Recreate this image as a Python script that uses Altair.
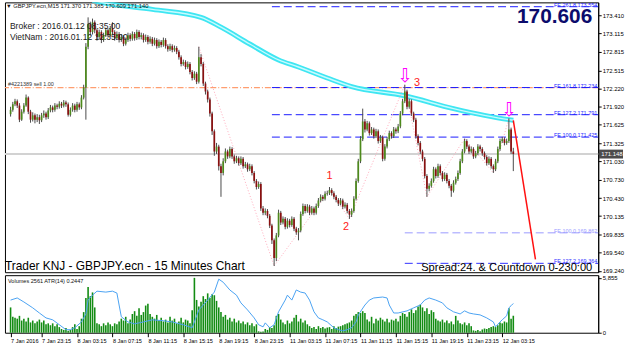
import altair as alt
import pandas as pd

# ---------------- data ----------------
open0 = 171.80
closes = [
    171.87, 171.96, 172.01, 171.94, 171.71, 171.84, 171.94, 172.07, 171.84, 171.71,
    171.78, 171.71, 171.75, 171.70, 171.78, 171.81, 171.75, 171.86, 171.91, 171.87,
    171.94, 171.92, 171.97, 171.94, 171.99, 171.96, 171.79, 171.87, 171.94, 171.87,
    171.96, 171.91, 172.07, 172.23, 172.90, 173.27, 173.14, 173.30, 173.17, 173.06,
    173.14, 173.01, 173.09, 173.17, 173.09, 173.20, 173.14, 173.04, 173.11, 173.01,
    173.06, 172.95, 173.01, 173.09, 173.03, 173.11, 173.04, 173.14, 173.06, 173.09,
    173.01, 173.06, 172.98, 173.03, 172.95, 173.01, 172.91, 172.98, 172.93, 173.01,
    172.91, 172.86, 172.91, 172.85, 172.88, 172.82, 172.73, 172.62, 172.65, 172.57,
    172.62, 172.49, 172.39, 172.46, 172.33, 172.73, 172.62, 172.30, 172.17, 172.04,
    171.81, 171.52, 171.19, 171.27, 170.95, 170.84, 171.03, 171.19, 171.11, 171.23,
    171.11, 171.03, 171.08, 171.00, 171.07, 170.95, 170.98, 170.90, 170.95, 170.84,
    170.71, 170.61, 170.66, 170.26, 170.19, 170.22, 170.14, 169.98, 169.74, 169.45,
    169.82, 170.19, 170.03, 170.09, 169.96, 170.06, 169.99, 170.09, 169.93, 169.87,
    169.90, 170.17, 170.30, 170.22, 170.29, 170.19, 170.26, 170.19, 170.30, 170.39,
    170.45, 170.42, 170.50, 170.51, 170.56, 170.51, 170.45, 170.40, 170.34, 170.39,
    170.29, 170.32, 170.22, 170.16, 170.22, 170.42, 170.71, 171.03, 171.39, 171.68,
    171.55, 171.65, 171.49, 171.55, 171.44, 171.52, 171.36, 171.42, 171.07, 171.27,
    171.39, 171.49, 171.44, 171.55, 171.52, 171.60, 171.81, 172.01, 172.17, 171.92,
    172.01, 171.81, 171.71, 171.44, 171.33, 171.19, 171.07, 170.79, 170.58, 170.63,
    170.71, 170.90, 170.79, 170.95, 170.84, 170.74, 170.81, 170.71, 170.63, 170.55,
    170.68, 170.74, 170.84, 171.03, 171.19, 171.36, 171.27, 171.19, 171.23, 171.11,
    171.16, 171.27, 171.23, 171.16, 171.10, 171.00, 171.07, 170.95, 170.90, 171.03,
    171.23, 171.36, 171.39, 171.33, 171.36, 171.55, 171.19, 171.148,
]
highs = [
    171.92, 172.00, 172.05, 172.04, 171.98, 171.88, 171.98, 172.12, 172.09, 171.87,
    171.83, 171.81, 171.80, 171.79, 171.82, 171.86, 171.84, 171.90, 171.95, 171.94,
    171.98, 171.97, 172.01, 172.00, 172.03, 172.02, 171.99, 171.91, 171.98, 171.97,
    172.00, 171.99, 172.11, 172.28, 172.96, 173.38, 173.31, 173.36, 173.33, 173.20,
    173.18, 173.17, 173.13, 173.21, 173.20, 173.24, 173.30, 173.17, 173.15, 173.14,
    173.10, 173.09, 173.05, 173.13, 173.12, 173.15, 173.14, 173.18, 173.17, 173.13,
    173.12, 173.10, 173.09, 173.07, 173.06, 173.05, 173.04, 173.02, 173.01, 173.05,
    173.04, 172.94, 172.95, 172.94, 172.92, 172.91, 172.85, 172.76, 172.69, 172.68,
    172.66, 172.65, 172.52, 172.50, 172.49, 172.90, 172.78, 172.65, 172.33, 172.20,
    172.07, 171.84, 171.55, 171.33, 171.30, 170.99, 171.08, 171.24, 171.22, 171.27,
    171.26, 171.14, 171.12, 171.11, 171.11, 171.10, 171.02, 171.01, 170.99, 170.98,
    170.87, 170.74, 170.70, 170.69, 170.30, 170.26, 170.25, 170.17, 170.01, 169.77,
    169.86, 170.24, 170.22, 170.13, 170.12, 170.10, 170.09, 170.13, 170.12, 169.96,
    169.94, 170.21, 170.34, 170.33, 170.33, 170.32, 170.30, 170.29, 170.34, 170.43,
    170.49, 170.48, 170.54, 170.55, 170.61, 170.59, 170.54, 170.48, 170.43, 170.43,
    170.42, 170.36, 170.35, 170.25, 170.26, 170.46, 170.75, 171.07, 171.44, 171.89,
    171.72, 171.69, 171.68, 171.59, 171.58, 171.56, 171.55, 171.46, 171.45, 171.31,
    171.43, 171.53, 171.52, 171.59, 171.58, 171.64, 171.85, 172.05, 172.28, 172.20,
    172.05, 172.04, 171.84, 171.74, 171.47, 171.36, 171.22, 171.10, 170.82, 170.67,
    170.75, 170.94, 170.93, 170.99, 170.98, 170.87, 170.85, 170.84, 170.74, 170.66,
    170.72, 170.78, 170.88, 171.07, 171.23, 171.40, 171.39, 171.30, 171.27, 171.26,
    171.20, 171.31, 171.30, 171.26, 171.19, 171.13, 171.11, 171.10, 170.98, 171.07,
    171.27, 171.40, 171.43, 171.42, 171.40, 171.73, 171.58, 171.25,
]
lows = [
    171.76, 171.84, 171.93, 171.90, 171.67, 171.69, 171.81, 171.92, 171.80, 171.66,
    171.68, 171.65, 171.67, 171.64, 171.67, 171.74, 171.71, 171.72, 171.83, 171.83,
    171.84, 171.88, 171.89, 171.90, 171.91, 171.92, 171.76, 171.76, 171.84, 171.83,
    171.84, 171.87, 171.88, 172.04, 171.71, 172.86, 173.08, 173.10, 173.12, 173.00,
    173.02, 172.96, 172.98, 173.06, 173.05, 173.06, 173.10, 173.00, 173.01, 172.97,
    172.98, 172.91, 172.92, 172.98, 172.99, 173.00, 173.00, 173.01, 173.02, 173.02,
    172.97, 172.98, 172.94, 172.95, 172.91, 172.92, 172.87, 172.88, 172.89, 172.90,
    172.87, 172.82, 172.83, 172.81, 172.82, 172.78, 172.69, 172.58, 172.59, 172.53,
    172.54, 172.45, 172.35, 172.36, 172.29, 172.30, 172.58, 172.26, 172.12, 171.99,
    171.76, 171.46, 171.12, 171.15, 170.88, 170.45, 170.80, 171.00, 171.07, 171.08,
    171.07, 170.99, 171.00, 170.96, 170.97, 170.91, 170.92, 170.86, 170.87, 170.80,
    170.67, 170.57, 170.58, 170.22, 170.15, 170.15, 170.10, 169.94, 169.68, 169.32,
    169.40, 169.79, 169.99, 170.00, 169.92, 169.93, 169.95, 169.96, 169.89, 169.83,
    169.74, 169.87, 170.14, 170.18, 170.19, 170.15, 170.16, 170.15, 170.16, 170.27,
    170.36, 170.38, 170.39, 170.47, 170.48, 170.47, 170.41, 170.36, 170.30, 170.31,
    170.25, 170.26, 170.18, 170.09, 170.12, 170.19, 170.39, 170.68, 171.00, 171.36,
    171.50, 171.52, 171.45, 171.46, 171.40, 171.41, 171.32, 171.33, 171.03, 171.04,
    171.24, 171.36, 171.40, 171.41, 171.48, 171.49, 171.57, 171.78, 171.98, 171.88,
    171.89, 171.77, 171.67, 171.40, 171.29, 171.15, 171.03, 170.75, 170.45, 170.54,
    170.60, 170.68, 170.75, 170.76, 170.80, 170.70, 170.71, 170.67, 170.59, 170.45,
    170.52, 170.65, 170.71, 170.81, 171.00, 171.16, 171.23, 171.15, 171.16, 171.07,
    171.08, 171.13, 171.19, 171.12, 171.06, 170.96, 170.97, 170.91, 170.84, 170.87,
    171.00, 171.20, 171.33, 171.29, 171.30, 171.33, 171.15, 170.87,
]
volumes = [
    2700, 1700, 1600, 1500, 1800, 1300, 1500, 1200, 1600, 1100,
    1300, 1000, 1200, 1400, 1100, 1300, 900, 1000, 800, 1000,
    700, 900, 600, 400, 300, 500, 200, 300, 600, 900,
    400, 700, 1500, 2200, 3700, 4880, 3900, 4300, 2700, 1000,
    900, 700, 1000, 800, 1100, 900, 700, 1000, 900, 1200,
    1500, 1300, 1700, 1000, 1400, 2000, 2300, 1800, 2600, 1900,
    2200, 2900, 3100, 2000, 1700, 1500, 1900, 1300, 1600, 1200,
    1400, 1100, 1700, 1300, 1500, 1000, 1200, 1600, 1100, 1400,
    1300, 1000, 2400, 5855, 3500, 2800, 3300, 3900, 3600, 4200,
    3700, 4100, 4000, 3400, 2700, 2200, 1700, 1900, 1400, 1600,
    1200, 1500, 1100, 1300, 1000, 1200, 900, 1100, 800, 1000,
    700, 900, 150, 100, 120, 400, 300, 600, 500, 800,
    1800, 2000, 1400, 1100, 900, 1300, 1000, 1200, 1600, 1900,
    1200, 1500, 1100, 1300, 900, 700, 500, 600, 400, 700,
    500, 600, 450, 550, 600, 400, 700, 500, 650, 700,
    800, 900, 1000, 1100, 1300, 1800, 2000, 2200, 2100, 2300,
    2100, 1400, 1200, 1700, 1000, 1500, 1300, 1600, 1400, 1200,
    1500, 1100, 1400, 1300, 1500, 1200, 1800, 2100, 2000, 1700,
    2200, 2500, 2100, 2400, 2800, 3000, 2700, 2300, 2600, 2000,
    2400, 2200, 1500, 1300, 1200, 1400, 1100, 1300, 1000, 1200,
    900, 1800, 1300, 1000, 900, 1100, 800, 1000, 700, 250,
    200, 300, 150, 350, 450, 400, 500, 600, 700, 600,
    800, 1100, 1000, 1200, 1100, 2600, 1500, 1800,
]
atr_idx = [0, 3, 6, 10, 13, 16, 19, 22, 25, 27, 29, 32, 34, 35, 37, 39, 43, 46, 48, 49,
           50, 53, 56, 60, 64, 69, 73, 78, 82, 83, 85, 89, 92, 94, 96, 99, 102, 104, 107, 110,
           112, 114, 115, 117, 119, 121, 124, 125, 127, 129, 131, 133, 135, 137, 139, 141, 143, 146, 148, 150,
           152, 154, 156, 157, 160, 162, 164, 168, 170, 171, 173, 175, 179, 182, 185, 187, 189, 192, 195, 197,
           200, 203, 205, 207, 209, 212, 215, 218, 219, 221, 222, 224, 225, 226, 227]
atr_val = [0.259, 0.268, 0.251, 0.226, 0.204, 0.183, 0.175, 0.154, 0.133, 0.133,
           0.141, 0.166, 0.200, 0.259, 0.280, 0.297, 0.293, 0.297, 0.289, 0.238,
           0.188, 0.166, 0.158, 0.166, 0.175, 0.171, 0.166, 0.154, 0.141, 0.166,
           0.217, 0.259, 0.293, 0.348, 0.335, 0.302, 0.280, 0.247, 0.217, 0.183,
           0.154, 0.145, 0.162, 0.141, 0.154, 0.209, 0.259, 0.280, 0.259, 0.302,
           0.293, 0.289, 0.259, 0.209, 0.183, 0.175, 0.166, 0.141, 0.133, 0.128,
           0.133, 0.141, 0.166, 0.196, 0.238, 0.259, 0.268, 0.272, 0.268, 0.238,
           0.204, 0.204, 0.213, 0.226, 0.238, 0.259, 0.268, 0.259, 0.247, 0.226,
           0.209, 0.200, 0.213, 0.204, 0.200, 0.196, 0.183, 0.166, 0.145, 0.166,
           0.175, 0.192, 0.226, 0.235, 0.2447]
ma_idx = [37, 41, 64, 86, 95, 108, 121, 130, 143, 154, 178, 200, 225, 227]
ma_val = [173.66, 173.625, 173.51, 173.38, 173.22, 172.945, 172.685, 172.57, 172.39, 172.25,
          172.10, 171.89, 171.71, 171.70]
zig_idx = [85, 119, 144, 153, 178, 188, 205, 218, 225]
zig_val = [172.90, 169.32, 170.56, 170.09, 172.28, 170.45, 171.40, 170.84, 171.73]
proj_idx = [227, 237]
proj_val = [171.70, 169.43]
arrow_idx = [178, 225]
arrow_val = [172.43, 171.86]
num_txt = ["1", "2", "3"]
num_idx = [144, 151.5, 183.5]
num_val = [170.79, 169.95, 172.30]
fe_labels = ["FE 261.8  173.554", "FE 161.8  172.234", "FE 127.2  171.791",
             "FE 100.0  171.425", "FE 100.0  169.862", "FE 127.2  169.364"]
fe_prices = [173.554, 172.234, 171.791, 171.425, 169.862, 169.364]
fe_start = [118, 118, 118, 118, 178, 178]
fe_group = ["a", "a", "a", "a", "b", "c"]
tick_idx = [0, 14, 30, 46, 62, 78, 94, 110, 126, 142, 158, 174, 190, 206, 222]
tick_txt = ["7 Jan 2016", "7 Jan 23:15", "8 Jan 03:15", "8 Jan 07:15", "8 Jan 11:15",
            "8 Jan 15:15", "8 Jan 19:15", "8 Jan 23:15", "11 Jan 03:15", "11 Jan 07:15",
            "11 Jan 11:15", "11 Jan 15:15", "11 Jan 19:15", "11 Jan 23:15", "12 Jan 03:15"]
price_ticks = [173.410, 173.115, 172.815, 172.515, 172.220, 171.920, 171.625, 171.325,
               171.030, 170.730, 170.430, 170.135, 169.835, 169.540, 169.240]
current_price = 171.148
order_price = 172.234
order_label = "#4221389 sell 1.00"
big_price = "170.606"
header = "\u25bc GBPJPY.ecn,M15  171.370 171.385 170.609 171.140"
broker_txt = "Broker     : 2016.01.12 08:35:00"
vn_txt = "VietNam : 2016.01.12 12:35:00"
title_txt = "Trader KNJ - GBPJPY.ecn - 15 Minutes Chart"
spread_txt = "Spread:24. & Countdown 0-230:00"
vol_txt = "Volumes 2561  ATR(14) 0.2447"

# ---------------- frames ----------------
n = len(closes)
opens = [open0] + closes[:-1]
df = pd.DataFrame({"i": list(range(n)), "open": opens, "close": closes,
                   "high": highs, "low": lows, "vol": volumes})
df["dir"] = ["up" if c >= o else "down" for o, c in zip(opens, closes)]
atr_df = pd.DataFrame({"i": atr_idx, "atr": atr_val})
ma_df = pd.DataFrame({"i": ma_idx, "p": ma_val})
zig_df = pd.DataFrame({"i": zig_idx, "p": zig_val})
proj_df = pd.DataFrame({"i": proj_idx, "p": proj_val})
arrow_df = pd.DataFrame({"i": arrow_idx, "p": arrow_val})
num_df = pd.DataFrame({"i": num_idx, "p": num_val, "t": num_txt})
fe_df = pd.DataFrame({"label": fe_labels, "p": fe_prices, "start": fe_start, "g": fe_group})
cur_df = pd.DataFrame({"p": [current_price], "t": [f"{current_price:.3f}"]})
ord_df = pd.DataFrame({"p": [order_price]})
one = pd.DataFrame({"a": [0]})

SANS = "Liberation Sans, Arial, sans-serif"

XS = alt.Scale(domain=[-0.3, 263.1], nice=False, zero=False)
YS = alt.Scale(domain=[169.219, 173.625], nice=False, zero=False)
price_axis = alt.Axis(orient="right", values=price_ticks, format=".3f", title=None, grid=False,
                      labelFontSize=6, labelFont=SANS, tickSize=3, labelPadding=1,
                      domainColor="black", tickColor="black", labelColor="black",
                      labelOverlap=False)


def xq(f="i"):
    return alt.X(f, type="quantitative", scale=XS, axis=None)


def yq(f):
    return alt.Y(f, type="quantitative", scale=YS, axis=price_axis)


W, H = 598, 272
FE_COL = {"a": "#1a1aff", "b": "#9a9aff", "c": "#3030ff"}

cur_line = alt.Chart(cur_df).mark_rule(color="#d2d2d2", strokeWidth=2).encode(y=yq("p"))
ord_line = alt.Chart(ord_df).mark_rule(color="#ff9e70", strokeWidth=1.2,
                                       strokeDash=[6, 2, 1, 2]).encode(y=yq("p"))
ord_text = alt.Chart(ord_df).mark_text(text=order_label, align="left", baseline="bottom",
                                       fontSize=5.5, font=SANS, color="#333", dy=-1).encode(
    x=alt.value(3), y=yq("p"))

fe_layers = []
for g, col in FE_COL.items():
    sub = alt.Chart(fe_df).transform_filter(f"datum.g == '{g}'")
    fe_layers.append(sub.mark_rule(strokeWidth=1, strokeDash=[8, 4], color=col).encode(
        x=xq("start"), x2=alt.value(W), y=yq("p")))
    fe_layers.append(sub.mark_text(align="right", baseline="bottom", fontSize=5.5, font=SANS,
                                   dy=1, color=col).encode(
        x=alt.value(W - 1), y=yq("p"), text="label:N"))

ma_outer = alt.Chart(ma_df).mark_line(color="#3fe6f2", strokeWidth=5, clip=True,
                                      interpolate="monotone").encode(x=xq(), y=yq("p"))
ma_inner = alt.Chart(ma_df).mark_line(color="#c6fbff", strokeWidth=1.4, clip=True,
                                      interpolate="monotone").encode(x=xq(), y=yq("p"))

zig = alt.Chart(zig_df).mark_line(color="#ffaabb", strokeWidth=1, strokeDash=[1, 2]).encode(
    x=xq(), y=yq("p"))

wick = alt.Chart(df).mark_rule(color="#4a4a4a", strokeWidth=1).encode(
    x=xq(), y=yq("low"), y2="high:Q")
body_up = alt.Chart(df).transform_filter("datum.dir == 'up'").mark_bar(
    size=1.7, color="#4d8a1c").encode(x=xq(), y=yq("open"), y2="close:Q")
body_dn = alt.Chart(df).transform_filter("datum.dir == 'down'").mark_bar(
    size=1.7, color="#8a0f0f").encode(x=xq(), y=yq("open"), y2="close:Q")

proj = alt.Chart(proj_df).mark_line(color="#ff1010", strokeWidth=1.5).encode(x=xq(), y=yq("p"))
arrows = alt.Chart(arrow_df).mark_text(text="\u21e9", fontSize=19, font="DejaVu Sans",
                                       color="#ff00ff").encode(x=xq(), y=yq("p"))
nums = alt.Chart(num_df).mark_text(fontSize=11, font=SANS, color="#ff2020").encode(
    x=xq(), y=yq("p"), text="t:N")

cur_box = alt.Chart(cur_df).mark_tick(orient="horizontal", thickness=9, size=24,
                                      color="black").encode(x=alt.value(W + 13), y=yq("p"))
cur_txt = alt.Chart(cur_df).mark_text(align="left", baseline="middle", fontSize=6, font=SANS,
                                      color="white").encode(x=alt.value(W + 3), y=yq("p"), text="t:N")


def label(txt, x, y, size, color="black", align="left", weight="normal"):
    return alt.Chart(one).mark_text(text=txt, align=align, baseline="alphabetic", fontSize=size,
                                    font=SANS, color=color, fontWeight=weight).encode(
        x=alt.value(x), y=alt.value(y))


texts = [
    label(header, 1, 6, 5.8, "#111"),
    label(broker_txt, 5, 27, 8.6, "#222"),
    label(vn_txt, 5, 38, 8.6, "#222"),
    label(big_price, 592, 21, 21, "#0c0c6c", "right", "bold"),
    label(title_txt, 0, 270, 12, "black"),
    label(spread_txt, 592, 271, 11.2, "black", "right"),
]

main = alt.layer(cur_line, ord_line, *fe_layers, ord_text, ma_outer, ma_inner, zig,
                 wick, body_up, body_dn, proj, arrows, nums, cur_box, cur_txt, *texts).properties(
    width=W, height=H)

# ---------------- volume + ATR panel ----------------
label_expr = ("[" + ",".join(f"'{t}'" for t in tick_txt) + "][indexof(["
              + ",".join(str(v) for v in tick_idx) + "], datum.value)]")
x_axis = alt.Axis(values=tick_idx, labelExpr=label_expr, title=None, grid=False,
                  labelFontSize=5.6, labelFont=SANS, labelAlign="left", labelPadding=2,
                  tickSize=4, tickColor="black", domain=False, labelColor="black",
                  labelOverlap=False, labelFlush=False)

vol = alt.Chart(df).mark_bar(size=1.6, color="#138c13").encode(
    x=alt.X("i:Q", scale=XS, axis=x_axis),
    y=alt.Y("vol:Q", scale=alt.Scale(domain=[0, 6140], nice=False),
            axis=alt.Axis(orient="right", values=[0, 5855], title=None, grid=False,
                          labelFontSize=6, labelFont=SANS, tickSize=3, labelPadding=1,
                          domainColor="black", tickColor="black", labelColor="black")))
atr = alt.Chart(atr_df).mark_line(color="#4aa2f2", strokeWidth=1).encode(
    x=alt.X("i:Q", scale=XS, axis=x_axis),
    y=alt.Y("atr:Q", scale=alt.Scale(domain=[0.12, 0.365], nice=False, zero=False), axis=None))
vol_lbl = label(vol_txt, 3, 8, 5.6, "#111")

lower = alt.layer(vol, atr, vol_lbl).resolve_scale(y="independent").properties(width=W, height=58)

chart = alt.vconcat(main, lower, spacing=3, bounds="flush").properties(
    padding={"left": 3, "top": 0, "right": 0, "bottom": 0},
    background="white",
).configure_view(stroke="black", strokeWidth=1)

chart.save("out.html", embed_options={"renderer": "svg", "actions": False})
